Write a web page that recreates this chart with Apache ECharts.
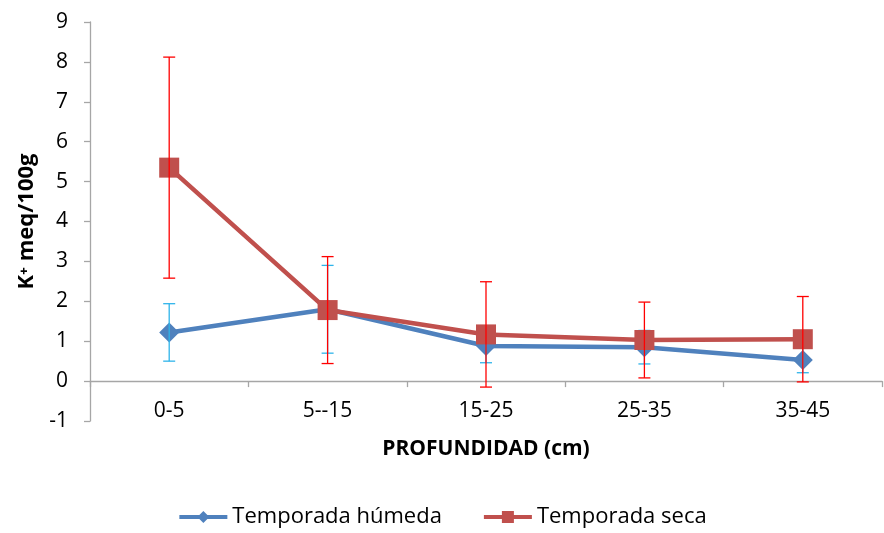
<!DOCTYPE html>
<html>
<head>
<meta charset="utf-8">
<script src="https://cdn.jsdelivr.net/npm/echarts@6/dist/echarts.min.js"></script>
<style>html,body{margin:0;padding:0;background:#fff}#c{width:884px;height:533px}</style>
</head>
<body>
<div id="c"></div>
<script>
var categories = ['0-5', '5--15', '15-25', '25-35', '35-45'];
var humedaValues = [1.22, 1.80, 0.88, 0.85, 0.53];
var humedaErrors = [0.72, 1.10, 0.42, 0.42, 0.32];
var secaValues = [5.35, 1.78, 1.17, 1.03, 1.05];
var secaErrors = [2.77, 1.34, 1.32, 0.95, 1.07];
var yTicks = [-1, 0, 1, 2, 3, 4, 5, 6, 7, 8, 9];

var FONT = 'Open Sans';

function errData(vals, errs) {
  return vals.map(function (v, i) { return [i, v - errs[i], v + errs[i]]; });
}
function errRender(color) {
  return function (params, api) {
    var lo = api.coord([api.value(0), api.value(1)]);
    var hi = api.coord([api.value(0), api.value(2)]);
    var w = 6;
    var style = { stroke: color, lineWidth: 1.3 };
    return {
      type: 'group',
      children: [
        { type: 'line', shape: { x1: lo[0], y1: lo[1], x2: hi[0], y2: hi[1] }, style: style },
        { type: 'line', shape: { x1: lo[0] - w, y1: lo[1], x2: lo[0] + w, y2: lo[1] }, style: style },
        { type: 'line', shape: { x1: hi[0] - w, y1: hi[1], x2: hi[0] + w, y2: hi[1] }, style: style }
      ]
    };
  };
}

var chart = echarts.init(document.getElementById('c'));
chart.setOption({
  animation: false,
  textStyle: { fontFamily: FONT },
  grid: { left: 90, right: 2, top: 22, bottom: 112 },
  legend: {
    bottom: 0,
    left: 'center',
    itemWidth: 48,
    itemHeight: 15,
    itemGap: 40,
    lineStyle: { width: 4 },
    textStyle: { fontFamily: FONT, fontSize: 22, color: '#000' },
    data: ['Temporada húmeda', 'Temporada seca']
  },
  xAxis: {
    type: 'category',
    data: categories,
    boundaryGap: true,
    name: 'PROFUNDIDAD (cm)',
    nameLocation: 'middle',
    nameGap: 18,
    nameTextStyle: { fontFamily: FONT, fontSize: 21, fontWeight: 'bold', color: '#000' },
    axisLine: { onZero: true, lineStyle: { color: '#a6a6a6', width: 1.3 } },
    axisTick: { show: true, alignWithLabel: false, length: 6, lineStyle: { color: '#a6a6a6', width: 1.3 } },
    axisLabel: { margin: -20, fontSize: 21, color: '#000', fontFamily: FONT },
    splitLine: { show: false }
  },
  yAxis: {
    type: 'value',
    min: yTicks[0],
    max: yTicks[yTicks.length - 1],
    interval: 1,
    name: 'K⁺ meq/100g',
    nameLocation: 'middle',
    nameGap: 52,
    nameRotate: 90,
    nameTextStyle: { fontFamily: FONT, fontSize: 22, fontWeight: 'bold', color: '#000' },
    axisLine: { show: true, lineStyle: { color: '#a6a6a6', width: 1.3 } },
    axisTick: { show: true, length: 6, lineStyle: { color: '#a6a6a6', width: 1.3 } },
    axisLabel: { margin: 22, fontSize: 21, color: '#000', fontFamily: FONT },
    splitLine: { show: false }
  },
  series: [
    {
      name: 'Temporada húmeda',
      type: 'line',
      data: humedaValues,
      symbol: 'diamond',
      symbolSize: 20,
      lineStyle: { color: '#4f81bd', width: 4.5 },
      itemStyle: { color: '#4f81bd' },
      z: 2
    },
    {
      name: 'errH',
      type: 'custom',
      data: errData(humedaValues, humedaErrors),
      renderItem: errRender('#2fb4ea'),
      encode: { x: 0, y: [1, 2] },
      z: 3,
      silent: true
    },
    {
      name: 'Temporada seca',
      type: 'line',
      data: secaValues,
      symbol: 'rect',
      symbolSize: 20,
      lineStyle: { color: '#c0504d', width: 4.5 },
      itemStyle: { color: '#c0504d' },
      z: 4
    },
    {
      name: 'errS',
      type: 'custom',
      data: errData(secaValues, secaErrors),
      renderItem: errRender('#ff0000'),
      encode: { x: 0, y: [1, 2] },
      z: 5,
      silent: true
    }
  ]
});
</script>
</body>
</html>
